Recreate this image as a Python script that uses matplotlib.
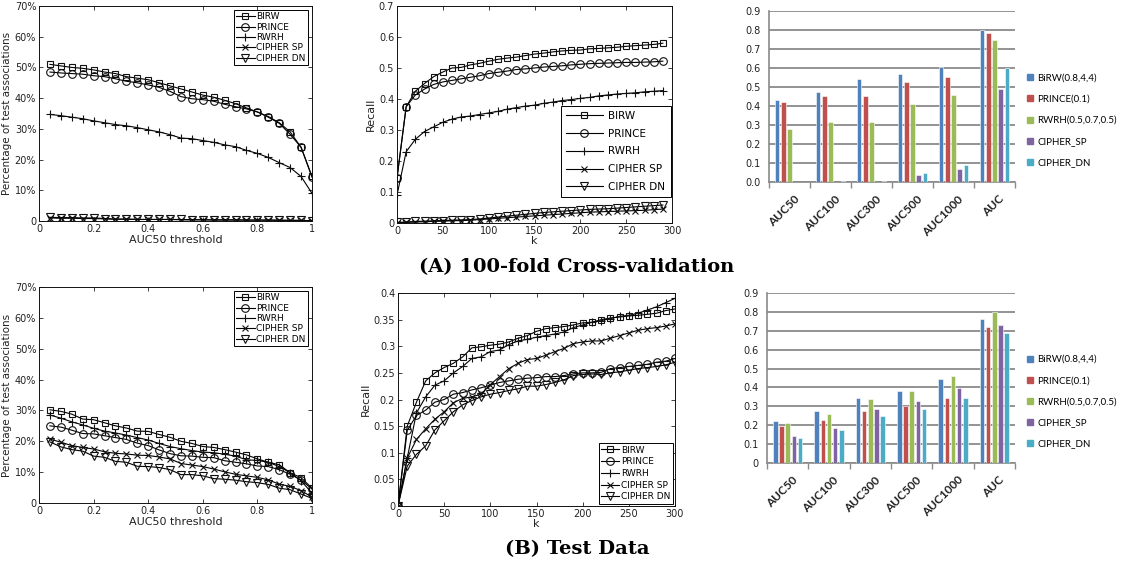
import matplotlib
matplotlib.use("Agg")
import matplotlib.pyplot as plt
import numpy as np

W, H = 1127, 563

# ---------------- data ----------------
thr = [0.04, 0.08, 0.12, 0.16, 0.20, 0.24, 0.28, 0.32, 0.36, 0.40, 0.44, 0.48, 0.52,
       0.56, 0.60, 0.64, 0.68, 0.72, 0.76, 0.80, 0.84, 0.88, 0.92, 0.96, 1.00]

a_birw = [51, 50.5, 50, 49.7, 49.2, 48.5, 48, 47, 46.5, 46, 45, 44, 43, 42, 41, 40.3,
          39.3, 38.2, 36.8, 35.5, 34, 32, 29, 24, 14.5]
a_prince = [48.5, 48.2, 48, 47.8, 47.3, 47, 46.3, 45.5, 45, 44.3, 43.5, 42.2, 40.5, 39.8,
            39.5, 39, 38, 37.2, 36.5, 35.5, 33.8, 31.8, 28.2, 24, 14.3]
a_rwrh = [34.7, 34.3, 33.8, 33.3, 32.6, 32, 31.4, 31, 30.4, 29.7, 29, 28.1, 27, 26.8, 26.2,
          25.6, 24.8, 24.2, 23, 22, 20.7, 19, 17.4, 14.5, 9]
a_sp = [1.0, 0.9, 0.9, 0.8, 0.8, 0.7, 0.6, 0.6, 0.5, 0.5, 0.5, 0.5, 0.4, 0.4, 0.4, 0.3,
        0.3, 0.3, 0.3, 0.3, 0.3, 0.2, 0.2, 0.2, 0.1]
a_dn = [1.2, 1.1, 1.1, 1.0, 1.0, 0.8, 0.6, 0.6, 0.5, 0.5, 0.5, 0.5, 0.5, 0.4, 0.4, 0.4,
        0.4, 0.4, 0.3, 0.3, 0.3, 0.3, 0.2, 0.2, 0.1]

k_a = [0, 10, 20, 30, 40, 50, 60, 70, 80, 90, 100, 110, 120, 130, 140, 150, 160, 170,
       180, 190, 200, 210, 220, 230, 240, 250, 260, 270, 280, 290]
ra_birw = [0.145, 0.375, 0.425, 0.45, 0.472, 0.487, 0.5, 0.502, 0.51, 0.515, 0.522, 0.528,
           0.532, 0.535, 0.54, 0.545, 0.548, 0.552, 0.555, 0.557, 0.558, 0.562, 0.563,
           0.565, 0.567, 0.57, 0.572, 0.574, 0.576, 0.58]
ra_prince = [0.145, 0.375, 0.413, 0.432, 0.447, 0.455, 0.46, 0.465, 0.47, 0.475, 0.482,
             0.486, 0.49, 0.495, 0.497, 0.5, 0.503, 0.505, 0.507, 0.51, 0.512, 0.514,
             0.515, 0.516, 0.517, 0.518, 0.518, 0.519, 0.52, 0.522]
ra_rwrh = [0.09, 0.23, 0.27, 0.295, 0.31, 0.325, 0.335, 0.342, 0.345, 0.35, 0.355, 0.36,
           0.367, 0.372, 0.377, 0.38, 0.386, 0.39, 0.395, 0.398, 0.402, 0.405, 0.41,
           0.413, 0.416, 0.418, 0.42, 0.423, 0.425, 0.427]
ra_sp = [0.0, 0.002, 0.003, 0.004, 0.005, 0.006, 0.007, 0.008, 0.009, 0.011, 0.013, 0.015,
         0.017, 0.019, 0.021, 0.023, 0.025, 0.027, 0.029, 0.031, 0.033, 0.035, 0.036,
         0.037, 0.038, 0.039, 0.04, 0.041, 0.043, 0.045]
ra_dn = [0.002, 0.003, 0.005, 0.006, 0.007, 0.008, 0.009, 0.01, 0.011, 0.013, 0.016, 0.019,
         0.022, 0.025, 0.028, 0.031, 0.034, 0.036, 0.038, 0.04, 0.042, 0.044, 0.045,
         0.046, 0.048, 0.05, 0.052, 0.054, 0.056, 0.058]

b_birw = [30.2, 29.7, 28.8, 27.2, 27.0, 26.0, 25.0, 24.3, 23.3, 23.2, 22.2, 21.3, 20.0,
          19.3, 18.3, 18.0, 17.3, 16.5, 15.6, 14.3, 13.2, 12.4, 9.8, 8.2, 4.8]
b_prince = [25.0, 24.6, 23.6, 22.5, 22.4, 21.8, 21.2, 20.6, 19.4, 18.6, 17.2, 16.0, 15.3,
            15.2, 14.8, 14.7, 13.7, 13.2, 12.7, 12.0, 11.8, 10.8, 9.3, 7.5, 4.5]
b_rwrh = [28.5, 27.5, 26.3, 25.3, 24.2, 23.3, 22.7, 22.0, 21.2, 20.4, 19.3, 18.3, 17.6,
          17.0, 16.5, 16.3, 15.8, 15.2, 14.0, 13.8, 13.2, 11.8, 9.8, 7.2, 3.2]
b_sp = [20.7, 19.7, 18.6, 18.0, 17.5, 16.6, 16.1, 15.9, 15.5, 15.4, 14.9, 14.3, 12.8, 12.3,
        11.8, 11.0, 10.1, 9.3, 8.8, 8.3, 7.5, 6.1, 5.4, 4.0, 1.9]
b_dn = [19.8, 18.2, 17.3, 16.8, 15.2, 14.8, 13.5, 13.2, 11.9, 11.8, 11.5, 10.8, 9.2, 9.2,
        8.8, 7.9, 7.7, 7.4, 6.9, 6.6, 6.0, 4.8, 4.3, 2.9, 1.5]

k_b = [0, 10, 20, 30, 40, 50, 60, 70, 80, 90, 100, 110, 120, 130, 140, 150, 160, 170,
       180, 190, 200, 210, 220, 230, 240, 250, 260, 270, 280, 290, 300]
rb_birw = [0, 0.15, 0.195, 0.235, 0.25, 0.26, 0.268, 0.28, 0.297, 0.299, 0.302, 0.304,
           0.308, 0.315, 0.32, 0.328, 0.333, 0.335, 0.337, 0.34, 0.344, 0.345, 0.35,
           0.353, 0.355, 0.357, 0.358, 0.36, 0.362, 0.367, 0.37]
rb_prince = [0, 0.142, 0.17, 0.18, 0.195, 0.2, 0.21, 0.213, 0.218, 0.222, 0.227, 0.232,
             0.235, 0.238, 0.24, 0.241, 0.243, 0.243, 0.245, 0.248, 0.25, 0.25, 0.251,
             0.258, 0.26, 0.262, 0.264, 0.266, 0.27, 0.272, 0.277]
rb_rwrh = [0, 0.09, 0.175, 0.205, 0.227, 0.235, 0.25, 0.262, 0.277, 0.28, 0.29, 0.293,
           0.303, 0.31, 0.313, 0.317, 0.32, 0.323, 0.327, 0.335, 0.34, 0.345, 0.348,
           0.352, 0.356, 0.358, 0.362, 0.368, 0.374, 0.382, 0.39]
rb_sp = [0, 0.09, 0.125, 0.145, 0.163, 0.177, 0.194, 0.202, 0.205, 0.21, 0.228, 0.243,
         0.258, 0.268, 0.275, 0.277, 0.283, 0.29, 0.296, 0.305, 0.308, 0.31, 0.31, 0.315,
         0.32, 0.325, 0.33, 0.333, 0.335, 0.338, 0.342]
rb_dn = [0, 0.075, 0.097, 0.113, 0.143, 0.16, 0.177, 0.19, 0.198, 0.205, 0.21, 0.213,
         0.217, 0.22, 0.225, 0.225, 0.228, 0.232, 0.237, 0.245, 0.247, 0.248, 0.247, 0.25,
         0.252, 0.255, 0.258, 0.26, 0.262, 0.265, 0.27]

line_names = ["BIRW", "PRINCE", "RWRH", "CIPHER SP", "CIPHER DN"]
line_markers = ["s", "o", "+", "x", "v"]

bar_cats = ["AUC50", "AUC100", "AUC300", "AUC500", "AUC1000", "AUC"]
bar_names = ["BiRW(0.8,4,4)", "PRINCE(0.1)", "RWRH(0.5,0.7,0.5)", "CIPHER_SP", "CIPHER_DN"]
bar_colors = ["#4F81BD", "#C0504D", "#9BBB59", "#8064A2", "#4BACC6"]

bars_a = {
    "BiRW(0.8,4,4)": [0.43, 0.475, 0.54, 0.57, 0.605, 0.80],
    "PRINCE(0.1)": [0.42, 0.455, 0.455, 0.525, 0.555, 0.785],
    "RWRH(0.5,0.7,0.5)": [0.28, 0.315, 0.315, 0.41, 0.46, 0.745],
    "CIPHER_SP": [0.0, 0.0, 0.0, 0.035, 0.07, 0.49],
    "CIPHER_DN": [0.0, 0.005, 0.005, 0.05, 0.09, 0.60],
}
bars_b = {
    "BiRW(0.8,4,4)": [0.225, 0.275, 0.345, 0.38, 0.447, 0.765],
    "PRINCE(0.1)": [0.195, 0.228, 0.277, 0.302, 0.345, 0.718],
    "RWRH(0.5,0.7,0.5)": [0.21, 0.26, 0.337, 0.38, 0.463, 0.797],
    "CIPHER_SP": [0.145, 0.187, 0.285, 0.33, 0.397, 0.732],
    "CIPHER_DN": [0.13, 0.177, 0.248, 0.287, 0.342, 0.688],
}

# ---------------- figure ----------------
fig = plt.figure(figsize=(W / 100, H / 100), dpi=100)
fig.patch.set_facecolor("white")
TXT = "#222222"


def ax_px(l, t, r, b):
    return fig.add_axes([l / W, 1 - b / H, (r - l) / W, (b - t) / H])


def style_line_ax(ax):
    ax.tick_params(direction="in", length=3, width=0.6, labelsize=7, colors=TXT,
                   top=True, right=True, pad=2)
    for s in ax.spines.values():
        s.set_linewidth(0.7)
        s.set_color("#111111")


def draw_lines(ax, x, series):
    for y, name, m in zip(series, line_names, line_markers):
        ms = {"s": 4.5, "o": 5.5, "+": 6, "x": 4.5, "v": 5.5}[m]
        ax.plot(x, y, color="black", lw=0.8, marker=m, ms=ms, mfc="none",
                mec="#111111", mew=0.8, label=name)


def pct_axis(ax, xl):
    ax.set_xlim(0, 1)
    ax.set_ylim(0, 70)
    ax.set_xticks([0, 0.2, 0.4, 0.6, 0.8, 1.0])
    ax.set_xticklabels(["0", "0.2", "0.4", "0.6", "0.8", "1"])
    ax.set_yticks(range(0, 71, 10))
    ax.set_yticklabels(["0"] + [f"{v}%" for v in range(10, 71, 10)])
    ax.set_xlabel(xl, fontsize=8, color=TXT, labelpad=1)
    ax.set_ylabel("Percentage of test associations", fontsize=7.5, color=TXT, labelpad=2)


def bar_chart(ax, data, fmt_zero):
    n = len(bar_names)
    x = np.arange(len(bar_cats))
    step, bw = 0.15, 0.11
    for i, name in enumerate(bar_names):
        ax.bar(x + (i - (n - 1) / 2) * step, data[name], width=bw, color=bar_colors[i],
               edgecolor="white", linewidth=0.4, label=name, zorder=3)
    ax.set_xlim(-0.5, len(bar_cats) - 0.5)
    ax.set_ylim(0, 0.9)
    yt = np.round(np.arange(0, 0.91, 0.1), 1)
    ax.set_yticks(yt)
    if fmt_zero:
        ax.set_yticklabels([f"{v:.1f}" for v in yt])
    else:
        ax.set_yticklabels(["0"] + [f"{v:.1f}" for v in yt[1:]])
    ax.yaxis.grid(True, color="#8a8a8a", lw=1.3, zorder=0)
    ax.set_axisbelow(True)
    for s in ["top", "right"]:
        ax.spines[s].set_visible(False)
    for s in ["left", "bottom"]:
        ax.spines[s].set_color("#8a8a8a")
        ax.spines[s].set_linewidth(1.2)
    ax.tick_params(axis="y", length=0, labelsize=7, colors=TXT, pad=6)
    ax.set_xticks(np.arange(-0.5, len(bar_cats), 1.0))
    ax.set_xticklabels([])
    ax.tick_params(axis="x", length=4, width=1.0, color="#8a8a8a", direction="out")
    for xi, c in zip(x, bar_cats):
        ax.text(xi + 0.1, -0.06, c, rotation=45, ha="right", va="top",
                rotation_mode="anchor", fontsize=8.5, fontweight="bold", color="#222222",
                family="Lato", transform=ax.transData, clip_on=False)
    handles = [plt.Line2D([], [], marker="s", ls="none", color=c, ms=4.5) for c in bar_colors]
    ax.legend(handles, bar_names, loc="center left", bbox_to_anchor=(1.015, 0.36),
              frameon=False, handlelength=0.6, handletextpad=0.4,
              labelspacing=1.25, prop={"family": "Lato", "size": 7})


def line_legend(ax, **kw):
    lg = ax.legend(fancybox=False, edgecolor="black", framealpha=1, **kw)
    lg.get_frame().set_linewidth(0.7)
    return lg


# Top-left
ax1 = ax_px(39, 6, 312, 221)
draw_lines(ax1, thr, [a_birw, a_prince, a_rwrh, a_sp, a_dn])
pct_axis(ax1, "AUC50 threshold")
style_line_ax(ax1)
line_legend(ax1, loc="upper right", fontsize=6.5, handlelength=2.0, handletextpad=0.2,
            labelspacing=0.15, borderpad=0.3, borderaxespad=0.4)

# Top-middle
ax2 = ax_px(397, 6, 672, 223)
draw_lines(ax2, k_a, [ra_birw, ra_prince, ra_rwrh, ra_sp, ra_dn])
ax2.set_xlim(0, 300)
ax2.set_ylim(0, 0.7)
ax2.set_xticks(range(0, 301, 50))
ax2.set_yticks(np.round(np.arange(0, 0.71, 0.1), 1))
ax2.set_yticklabels(["0"] + [f"{v:.1f}" for v in np.arange(0.1, 0.71, 0.1)])
ax2.set_xlabel("k", fontsize=8, color=TXT, labelpad=0)
ax2.set_ylabel("Recall", fontsize=8, color=TXT, labelpad=2)
style_line_ax(ax2)
line_legend(ax2, loc="center right", bbox_to_anchor=(0.995, 0.33), fontsize=7.5,
            handlelength=3.6, handletextpad=0.5, labelspacing=0.75, borderpad=0.5,
            borderaxespad=0)

# Top-right bars
ax3 = ax_px(769, 11, 1015, 182)
bar_chart(ax3, bars_a, True)

# Bottom-left
ax4 = ax_px(39, 287, 312, 503)
draw_lines(ax4, thr, [b_birw, b_prince, b_rwrh, b_sp, b_dn])
pct_axis(ax4, "AUC50 threshold")
style_line_ax(ax4)
line_legend(ax4, loc="upper right", fontsize=6.5, handlelength=2.0, handletextpad=0.2,
            labelspacing=0.15, borderpad=0.3, borderaxespad=0.4)

# Bottom-middle
ax5 = ax_px(398, 293, 675, 506)
draw_lines(ax5, k_b, [rb_birw, rb_prince, rb_rwrh, rb_sp, rb_dn])
ax5.set_xlim(0, 300)
ax5.set_ylim(0, 0.4)
ax5.set_xticks(range(0, 301, 50))
yt5 = np.round(np.arange(0, 0.401, 0.05), 2)
ax5.set_yticks(yt5)
ax5.set_yticklabels(["0", "0.05", "0.1", "0.15", "0.2", "0.25", "0.3", "0.35", "0.4"])
ax5.set_xlabel("k", fontsize=8, color=TXT, labelpad=0)
ax5.set_ylabel("Recall", fontsize=8, color=TXT, labelpad=2)
style_line_ax(ax5)
line_legend(ax5, loc="lower right", fontsize=6.5, handlelength=2.0, handletextpad=0.2,
            labelspacing=0.3, borderpad=0.3, borderaxespad=0.2)

# Bottom-right bars
ax6 = ax_px(767, 293, 1015, 463)
bar_chart(ax6, bars_b, False)

# Titles
fig.text(577 / W, 1 - 267 / H, "(A) 100-fold Cross-validation", ha="center", va="center",
         fontsize=14, family="DejaVu Serif", fontweight="bold", color="black")
fig.text(577 / W, 1 - 549 / H, "(B) Test Data", ha="center", va="center",
         fontsize=14, family="DejaVu Serif", fontweight="bold", color="black")

fig.savefig("out.png", dpi=100)
